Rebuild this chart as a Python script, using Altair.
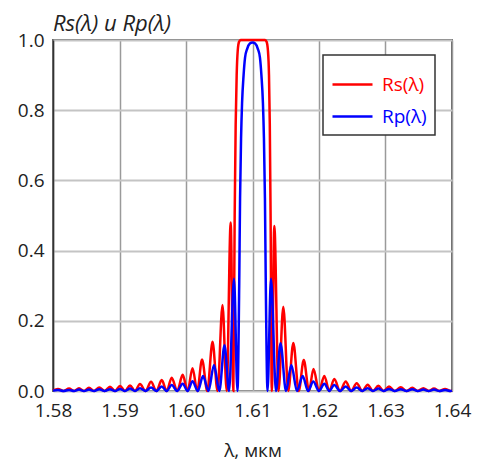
import altair as alt
import pandas as pd

# Rs(λ) — wavelength (μm) and reflectance
rs_lam = [1.58000, 1.58075, 1.58158, 1.58241, 1.58316, 1.58391, 1.58466, 1.58541, 1.58618, 1.58696,
          1.58776, 1.58857, 1.58932, 1.59008, 1.59083, 1.59158, 1.59233, 1.59308, 1.59391, 1.59474,
          1.59555, 1.59635, 1.59710, 1.59785, 1.59868, 1.59950, 1.60024, 1.60098, 1.60170, 1.60241,
          1.60320, 1.60399, 1.60474, 1.60549, 1.60612, 1.60672, 1.60712, 1.60732, 1.60747, 1.60762,
          1.60778, 1.60798, 1.60820, 1.61190, 1.61212, 1.61232, 1.61248, 1.61260, 1.61272, 1.61290,
          1.61328, 1.61391, 1.61463, 1.61538, 1.61614, 1.61695, 1.61771, 1.61850, 1.61917, 1.62000,
          1.62080, 1.62155, 1.62230, 1.62316, 1.62402, 1.62484, 1.62567, 1.62650, 1.62732, 1.62812,
          1.62892, 1.62972, 1.63053, 1.63140, 1.63229, 1.63316, 1.63403, 1.63486, 1.63569, 1.63650,
          1.63729, 1.63812, 1.63895, 1.63977, 1.64000]
rs_val = [0.002, 0.006, 0.0, 0.007, 0.0, 0.008, 0.0, 0.009, 0.0, 0.010,
          0.0, 0.012, 0.0, 0.014, 0.0, 0.016, 0.0, 0.020, 0.0, 0.026,
          0.0, 0.031, 0.0, 0.038, 0.0, 0.046, 0.0, 0.065, 0.0, 0.090,
          0.0, 0.140, 0.0, 0.245, 0.0, 0.480, 0.0, 0.50, 0.76, 0.90,
          0.97, 0.995, 1.0, 1.0, 0.995, 0.97, 0.90, 0.76, 0.50, 0.0,
          0.470, 0.0, 0.240, 0.0, 0.137, 0.0, 0.088, 0.0, 0.063, 0.0,
          0.043, 0.0, 0.034, 0.0, 0.027, 0.0, 0.022, 0.0, 0.018, 0.0,
          0.015, 0.0, 0.013, 0.0, 0.011, 0.0, 0.009, 0.0, 0.008, 0.0,
          0.007, 0.0, 0.006, 0.0, 0.001]

# Rp(λ)
rp_lam = [1.58000, 1.58075, 1.58158, 1.58241, 1.58316, 1.58391, 1.58466, 1.58541, 1.58618, 1.58696,
          1.58776, 1.58857, 1.58932, 1.59008, 1.59083, 1.59158, 1.59233, 1.59308, 1.59391, 1.59474,
          1.59555, 1.59635, 1.59710, 1.59785, 1.59868, 1.59950, 1.60024, 1.60098, 1.60178, 1.60256,
          1.60338, 1.60421, 1.60501, 1.60579, 1.60647, 1.60722, 1.60774, 1.60800, 1.60813, 1.60828,
          1.60843, 1.60866, 1.60888, 1.60920, 1.60960, 1.61000, 1.61040, 1.61080, 1.61112, 1.61134,
          1.61157, 1.61172, 1.61187, 1.61200, 1.61226, 1.61278, 1.61353, 1.61421, 1.61504, 1.61584,
          1.61669, 1.61755, 1.61835, 1.61914, 1.62000, 1.62080, 1.62155, 1.62230, 1.62316, 1.62402,
          1.62484, 1.62567, 1.62650, 1.62732, 1.62812, 1.62892, 1.62972, 1.63053, 1.63140, 1.63229,
          1.63316, 1.63403, 1.63486, 1.63569, 1.63650, 1.63729, 1.63812, 1.63895, 1.63977, 1.64000]
rp_val = [0.001, 0.003, 0.0, 0.003, 0.0, 0.004, 0.0, 0.004, 0.0, 0.005,
          0.0, 0.005, 0.0, 0.006, 0.0, 0.007, 0.0, 0.008, 0.0, 0.010,
          0.0, 0.013, 0.0, 0.017, 0.0, 0.021, 0.0, 0.028, 0.0, 0.043,
          0.0, 0.074, 0.0, 0.130, 0.0, 0.320, 0.0, 0.30, 0.55, 0.72,
          0.82, 0.90, 0.95, 0.975, 0.99, 0.993, 0.99, 0.975, 0.95, 0.90,
          0.82, 0.72, 0.55, 0.30, 0.0, 0.320, 0.0, 0.136, 0.0, 0.074,
          0.0, 0.043, 0.0, 0.027, 0.0, 0.021, 0.0, 0.017, 0.0, 0.013,
          0.0, 0.010, 0.0, 0.008, 0.0, 0.007, 0.0, 0.006, 0.0, 0.005,
          0.0, 0.005, 0.0, 0.004, 0.0, 0.004, 0.0, 0.003, 0.0, 0.001]

series_names = ["Rs(λ)", "Rp(λ)"]
series_colors = ["#ff0000", "#0000ff"]
x_ticks = [1.58, 1.59, 1.60, 1.61, 1.62, 1.63, 1.64]
y_ticks = [0.0, 0.2, 0.4, 0.6, 0.8, 1.0]

df_s = pd.DataFrame({"lam": rs_lam, "R": rs_val, "series": series_names[0], "ord": range(len(rs_lam))})
df_p = pd.DataFrame({"lam": rp_lam, "R": rp_val, "series": series_names[1], "ord": range(len(rp_lam))})

FONT = "Open Sans"

x_enc = alt.X("lam:Q", scale=alt.Scale(domain=[1.58, 1.64], nice=False, zero=False),
              axis=alt.Axis(values=x_ticks, format=".2f", title="λ, мкм", grid=True,
                            gridColor="#9a9a9a", gridWidth=1.5, domain=False, ticks=False,
                            labelFontSize=19, labelFont=FONT, labelColor="#222", labelPadding=10,
                            labelFlush=False, titleFont=FONT, titleFontSize=19,
                            titleFontWeight="normal", titleColor="#222", titlePadding=21))
y_enc = alt.Y("R:Q", scale=alt.Scale(domain=[0, 1], nice=False),
              axis=alt.Axis(values=y_ticks, format=".1f", title=None, grid=True,
                            gridColor="#c4c4c4", gridWidth=2, domain=True, domainColor="#333",
                            domainWidth=1.5, ticks=False, labelFontSize=19, labelFont=FONT,
                            labelColor="#222", labelPadding=9))
color_enc = alt.Color("series:N",
                      scale=alt.Scale(domain=series_names, range=series_colors),
                      legend=alt.Legend(title=None, orient="none", legendX=270, legendY=15,
                                        symbolType="stroke", symbolSize=1600, symbolStrokeWidth=2.5,
                                        labelFontSize=19, labelFont=FONT, labelOffset=8,
                                        labelColor=alt.ExprRef("indexof(datum.label, 'Rs') == 0 ? '#ff0000' : '#0000ff'"),
                                        fillColor="white", padding=8, rowPadding=-1))

red = alt.Chart(df_s).mark_line(strokeWidth=2.5, interpolate="monotone").encode(
    x=x_enc, y=y_enc, color=color_enc, order="ord:Q")
blue = alt.Chart(df_p).mark_line(strokeWidth=2.5, interpolate="monotone").encode(
    x=x_enc, y=y_enc, color=color_enc, order="ord:Q")

chart = alt.layer(red, blue).properties(
    width=399, height=351,
    title=alt.Title("Rs(λ) u Rp(λ)", anchor="start", frame="group", fontStyle="italic",
                    fontWeight="normal", fontSize=22, font=FONT, color="#222", offset=-5),
    padding={"left": 45, "top": 32, "right": 20, "bottom": 70},
    autosize="none",
).configure_view(stroke="#666", strokeWidth=2).configure_legend(strokeColor="#333", strokeWidth=1.5)

chart.save("out.html", embed_options={"renderer": "svg", "actions": False})
